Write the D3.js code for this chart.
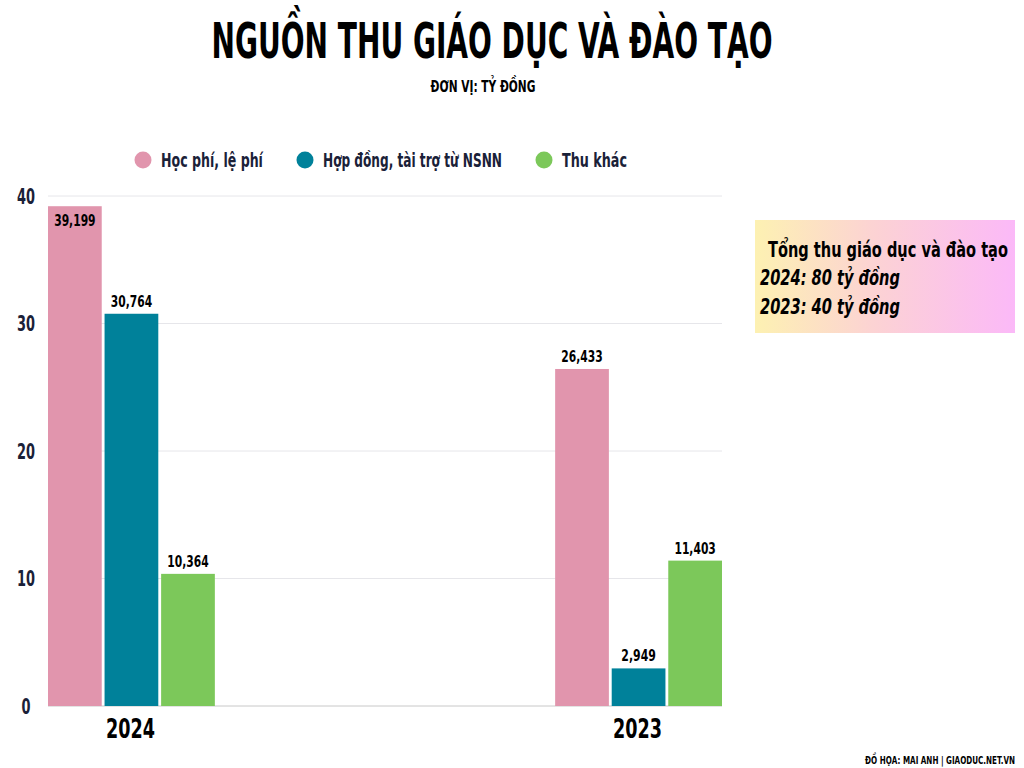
<!DOCTYPE html>
<html><head><meta charset="utf-8">
<script src="https://cdn.jsdelivr.net/npm/d3@7"></script>
<style>
body{margin:0;background:#fff;}
svg text{font-family:"DejaVu Sans Condensed","Liberation Sans Narrow",sans-serif;font-stretch:condensed;font-weight:bold;}
</style></head>
<body>
<svg id="c" width="1024" height="768"></svg>
<script>
const years = ["2024", "2023"];
const seriesNames = ["Học phí, lệ phí", "Hợp đồng, tài trợ từ NSNN", "Thu khác"];
const hocPhi = [39.199, 26.433];
const hopDong = [30.764, 2.949];
const thuKhac = [10.364, 11.403];
const valueLabels = [["39,199", "26,433"], ["30,764", "2,949"], ["10,364", "11,403"]];
const yTicks = [0, 10, 20, 30, 40];
const colors = ["#e195ad", "#00819a", "#7cc85a"];
const title = "NGUỒN THU GIÁO DỤC VÀ ĐÀO TẠO";
const subtitle = "ĐƠN VỊ: TỶ ĐỒNG";
const boxLines = ["Tổng thu giáo dục và đào tạo", "2024: 80 tỷ đồng", "2023: 40 tỷ đồng"];
const credit = "ĐỒ HỌA: MAI ANH | GIAODUC.NET.VN";

const series = [hocPhi, hopDong, thuKhac];
const svg = d3.select("#c");
const navy = "#1a2138";

// squeeze text horizontally about its anchor so that it is `w` px wide
function squeeze(t, w) {
  const node = t.node();
  const nat = node.getComputedTextLength();
  const s = Math.min(1, w / nat);
  const ax = +t.attr("x");
  t.attr("transform", `translate(${ax},0) scale(${s},1) translate(${-ax},0)`);
  return t;
}
function txt(x, y, str, size, opts = {}) {
  const t = svg.append("text").attr("x", x).attr("y", y).attr("font-size", size)
    .attr("fill", opts.fill || "#000").attr("text-anchor", opts.anchor || "start").text(str);
  if (opts.italic) t.attr("font-style", "italic");
  if (opts.w) squeeze(t, opts.w);
  return t;
}

const x0 = d3.scaleBand().domain(years).range([48, 722]).paddingInner(0.671).paddingOuter(0);
const x1 = d3.scaleBand().domain(d3.range(3)).range([0, x0.bandwidth()]).paddingInner(0.05);
const y = d3.scaleLinear().domain([0, 40]).range([706, 196]);

// title
txt(492, 58, title, 50, {anchor: "middle", w: 561});
txt(483, 92, subtitle, 16, {anchor: "middle", w: 105});

// legend
const legX = [143, 305, 544];
const legW = [102, 179, 65];
seriesNames.forEach((n, i) => {
  svg.append("circle").attr("cx", legX[i]).attr("cy", 160).attr("r", 8.5).attr("fill", colors[i]);
  txt(legX[i] + 18, 167, n, 19, {fill: navy, w: legW[i]});
});

// grid
svg.append("g").selectAll("line").data(yTicks).join("line")
  .attr("x1", 48).attr("x2", 722).attr("y1", d => y(d)).attr("y2", d => y(d))
  .attr("stroke", d => d === 0 ? "#c8c8c8" : "#e6e6ea").attr("stroke-width", 1);

// y axis labels
yTicks.forEach(d => {
  txt(26, y(d) + 8, String(d), 21, {anchor: "middle", fill: navy, w: String(d).length * 9});
});

// bars
years.forEach((yr, yi) => {
  series.forEach((s, si) => {
    const bx = x0(yr) + x1(si);
    svg.append("rect").attr("x", bx).attr("y", y(s[yi])).attr("width", x1.bandwidth())
      .attr("height", y(0) - y(s[yi])).attr("fill", colors[si]);
    const inside = (yi === 0 && si === 0);
    const lab = valueLabels[si][yi];
    txt(bx + x1.bandwidth() / 2, inside ? y(s[yi]) + 20 : y(s[yi]) - 7, lab, 16,
      {anchor: "middle", w: lab.length * 6.9});
  });
  txt(x0(yr) + x0.bandwidth() / 2 - 1, 738, yr, 27, {anchor: "middle", w: 49});
});

// summary box
const defs = svg.append("defs");
const g = defs.append("linearGradient").attr("id", "bg");
g.append("stop").attr("offset", "0%").attr("stop-color", "#fdf1b2");
g.append("stop").attr("offset", "45%").attr("stop-color", "#fcd3d3");
g.append("stop").attr("offset", "100%").attr("stop-color", "#fbb9f8");
svg.append("rect").attr("x", 755).attr("y", 220).attr("width", 260).attr("height", 113).attr("fill", "url(#bg)");
txt(768, 257, boxLines[0], 21, {w: 240});
txt(760, 285, boxLines[1], 21, {italic: true, w: 140});
txt(760, 314, boxLines[2], 21, {italic: true, w: 140});

// credit
txt(1015, 764, credit, 11, {anchor: "end", w: 150});
</script>
</body></html>
